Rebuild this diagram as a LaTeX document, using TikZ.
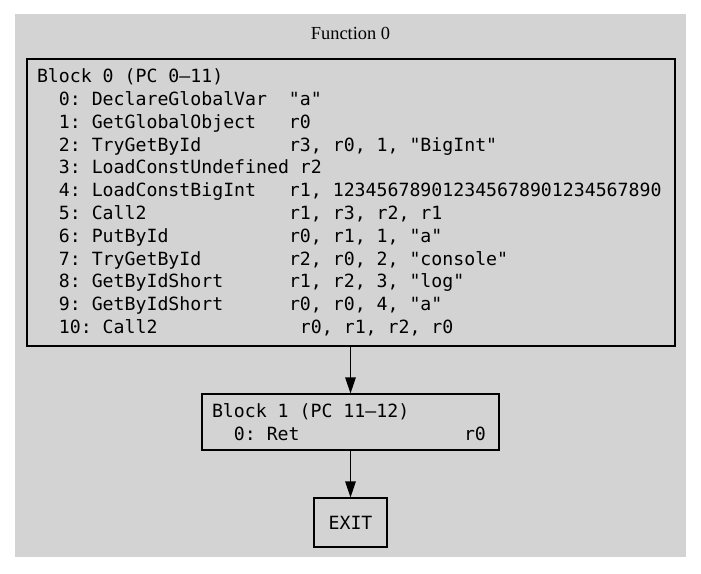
\documentclass[tikz,border=0pt]{standalone}
\usepackage{fontspec}
\setmainfont{Liberation Serif}
\newfontfamily\codefont{DejaVu Sans Mono}
\newcommand\ks[1]{\leavevmode\hbox to #1\fontcharwd\font`0{}}
\usetikzlibrary{arrows.meta}
\definecolor{bggray}{RGB}{211,211,211}
\tikzset{
  blockbox/.style={draw=black, line width=1.1pt, fill=bggray, inner xsep=10pt, inner ysep=0pt,
    align=left, font={\codefont\fontsize{18.2}{22.8}\selectfont}},
  flow/.style={draw=black, line width=1.1pt, -{Triangle[length=16pt,width=10.5pt]}},
  titletext/.style={font={\fontsize{18.4}{22}\selectfont}}
}
\begin{document}
\begin{tikzpicture}[x=1pt,y=-1pt]
\useasboundingbox (0,0) rectangle (701,573);
\fill[bggray] (15,14) rectangle (686,557);
\node[titletext] (title) at (350.5,33) {Function 0};
\node[blockbox, minimum width=648pt, minimum height=287pt, text width=628pt] (b0) at (351,202.5) {%
Block\ks{1}0\ks{1}(PC\ks{1}0–11)\\
\ks{2}0:\ks{1}DeclareGlobalVar\ks{2}"a"\\
\ks{2}1:\ks{1}GetGlobalObject\ks{3}r0\\
\ks{2}2:\ks{1}TryGetById\ks{8}r3,\ks{1}r0,\ks{1}1,\ks{1}"BigInt"\\
\ks{2}3:\ks{1}LoadConstUndefined\ks{1}r2\\
\ks{2}4:\ks{1}LoadConstBigInt\ks{3}r1,\ks{1}123456789012345678901234567890\\
\ks{2}5:\ks{1}Call2\ks{13}r1,\ks{1}r3,\ks{1}r2,\ks{1}r1\\
\ks{2}6:\ks{1}PutById\ks{11}r0,\ks{1}r1,\ks{1}1,\ks{1}"a"\\
\ks{2}7:\ks{1}TryGetById\ks{8}r2,\ks{1}r0,\ks{1}2,\ks{1}"console"\\
\ks{2}8:\ks{1}GetByIdShort\ks{6}r1,\ks{1}r2,\ks{1}3,\ks{1}"log"\\
\ks{2}9:\ks{1}GetByIdShort\ks{6}r0,\ks{1}r0,\ks{1}4,\ks{1}"a"\\
\ks{2}10:\ks{1}Call2\ks{13}r0,\ks{1}r1,\ks{1}r2,\ks{1}r0};
\node[blockbox, minimum width=297pt, minimum height=56pt, text width=277pt] (b1) at (350.5,422) {%
Block\ks{1}1\ks{1}(PC\ks{1}11–12)\\
\ks{2}0:\ks{1}Ret\ks{15}r0};
\node[blockbox, align=center, inner xsep=0pt, minimum width=73pt, minimum height=49pt] (exit) at (350.5,522.5) {EXIT};
\draw[flow] (b0.south -| b1.north) -- (b1.north);
\draw[flow] (b1.south) -- (exit.north);
\end{tikzpicture}
\end{document}
